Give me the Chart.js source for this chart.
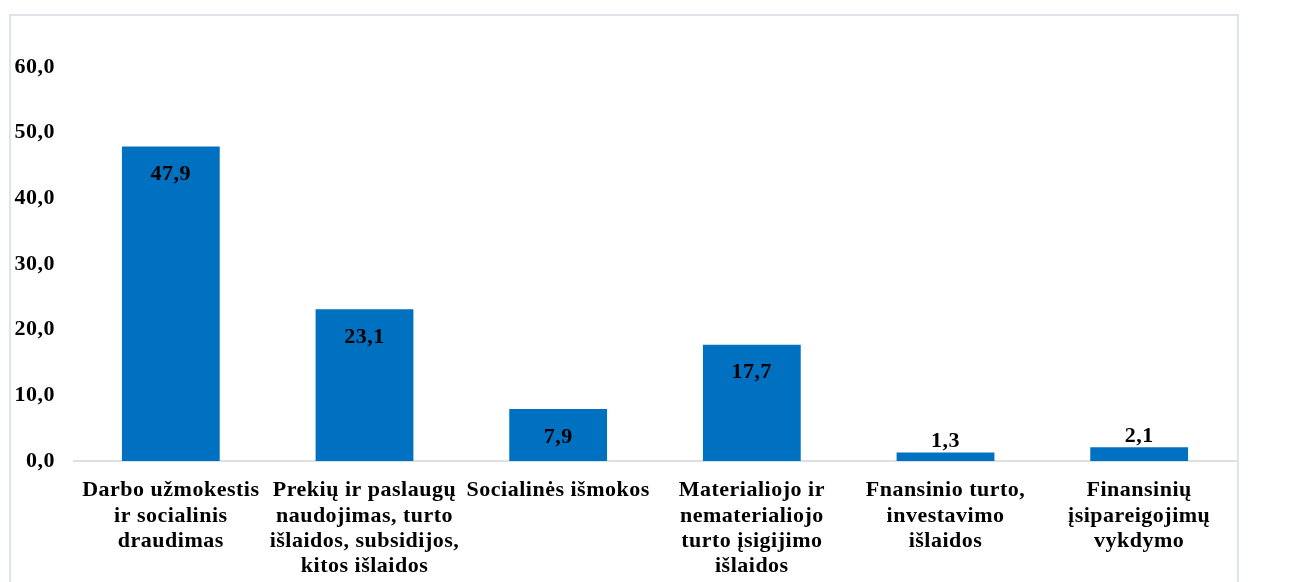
<!DOCTYPE html>
<html lang="lt">
<head>
    <meta charset="UTF-8">
    <title>Išlaidos pagal ekonominę klasifikaciją</title>
    <script src="https://cdn.jsdelivr.net/npm/chart.js"></script>
    <style>
        body {
            margin: 0;
            padding: 0;
            background: #ffffff;
        }

        .wrap {
            position: relative;
            width: 1289px;
            height: 582px;
            overflow: hidden;
        }

        .frame {
            position: absolute;
            left: 9px;
            top: 14px;
            width: 1226px;
            height: 640px;
            border: 2px solid #dfe4ec;
        }

        #chart {
            position: absolute;
            left: 0;
            top: 0;
        }
    </style>
</head>
<body>
<div class="wrap">
    <div class="frame"></div>
    <canvas id="chart" width="1289" height="582"></canvas>
</div>

<script>
    const categories = [
        ['Darbo užmokestis', 'ir socialinis', 'draudimas'],
        ['Prekių ir paslaugų', 'naudojimas, turto', 'išlaidos, subsidijos,', 'kitos išlaidos'],
        ['Socialinės išmokos'],
        ['Materialiojo ir', 'nematerialiojo', 'turto įsigijimo', 'išlaidos'],
        ['Fnansinio turto,', 'investavimo', 'išlaidos'],
        ['Finansinių', 'įsipareigojimų', 'vykdymo']
    ];
    const values = [47.9, 23.1, 7.9, 17.7, 1.3, 2.1];
    const yTicks = [0, 10, 20, 30, 40, 50, 60];

    const FONT = '"Liberation Serif", "Times New Roman", serif';

    function fmt(v) {
        return v.toFixed(1).replace('.', ',');
    }

    // the original text is set a bit wider than canvas draws it
    const spacing = {
        id: 'spacing',
        beforeInit(chart) {
            chart.ctx.letterSpacing = '0.5px';
        },
        beforeDraw(chart) {
            chart.ctx.letterSpacing = '0.5px';
        }
    };

    // value labels: inside the bar near the top, above it when the bar is too short
    const barLabels = {
        id: 'barLabels',
        afterDatasetsDraw(chart) {
            const ctx = chart.ctx;
            const meta = chart.getDatasetMeta(0);
            ctx.save();
            ctx.font = 'bold 22px ' + FONT;
            ctx.fillStyle = '#000000';
            ctx.textAlign = 'center';
            ctx.textBaseline = 'middle';
            meta.data.forEach((bar, i) => {
                const h = bar.base - bar.y;
                const y = h > 40 ? bar.y + 28 : bar.y - 11;
                ctx.fillText(fmt(values[i]), bar.x, y);
            });
            ctx.restore();
        }
    };

    new Chart(document.getElementById('chart'), {
        type: 'bar',
        data: {
            labels: categories,
            datasets: [{
                data: values,
                backgroundColor: '#0070c0',
                categoryPercentage: 1,
                barPercentage: 0.505
            }]
        },
        options: {
            responsive: false,
            animation: false,
            layout: {
                padding: {left: 0, top: 67, right: 53, bottom: 0}
            },
            plugins: {
                legend: {display: false},
                tooltip: {enabled: false}
            },
            scales: {
                x: {
                    grid: {display: false, drawTicks: false},
                    border: {display: true, color: '#dcdfe4', width: 2},
                    ticks: {
                        color: '#000000',
                        padding: 17,
                        maxRotation: 0,
                        autoSkip: false,
                        font: {family: FONT, size: 22, weight: 'bold', lineHeight: 1.15}
                    },
                    afterFit(scale) {
                        scale.height = 121;
                    }
                },
                y: {
                    min: 0,
                    max: 60,
                    grid: {display: false, drawTicks: false},
                    border: {display: false},
                    afterBuildTicks(scale) {
                        scale.ticks = yTicks.map(v => ({value: v}));
                    },
                    ticks: {
                        color: '#000000',
                        padding: 19,
                        font: {family: FONT, size: 22, weight: 'bold'},
                        callback: v => fmt(v)
                    },
                    afterFit(scale) {
                        scale.width = 74;
                    }
                }
            }
        },
        plugins: [spacing, barLabels]
    });
</script>
</body>
</html>
